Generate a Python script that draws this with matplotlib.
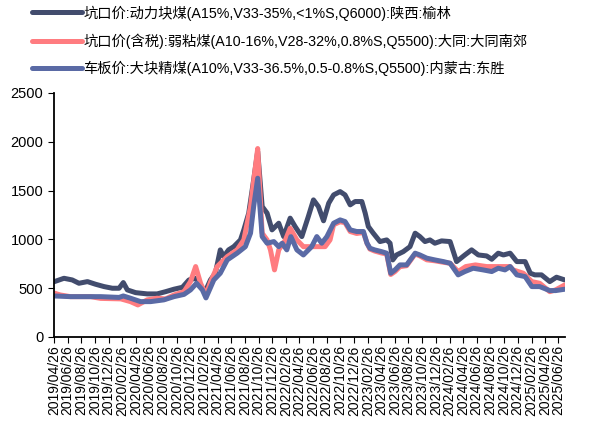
import matplotlib
matplotlib.use('Agg')
import matplotlib.pyplot as plt
import matplotlib.dates as mdates
import pandas as pd

plt.rcParams['font.family'] = ['Liberation Sans', 'Noto Sans CJK SC']

# 坑口价:动力块煤 陕西榆林
dark_dates = ['2019-04-26', '2019-06-10', '2019-07-17', '2019-08-16', '2019-09-23', '2019-10-29',
              '2019-12-06', '2020-01-12', '2020-02-11', '2020-03-01', '2020-03-19', '2020-04-25',
              '2020-06-16', '2020-07-30', '2020-09-06', '2020-10-13', '2020-11-20', '2020-12-19',
              '2021-01-18', '2021-02-17', '2021-03-05', '2021-03-25', '2021-04-16', '2021-05-08',
              '2021-05-23', '2021-06-14', '2021-07-07', '2021-08-06', '2021-08-21', '2021-09-12',
              '2021-10-04', '2021-10-22', '2021-11-11', '2021-12-03', '2021-12-25', '2022-01-24',
              '2022-02-15', '2022-03-16', '2022-04-07', '2022-05-07', '2022-06-05', '2022-06-28',
              '2022-07-20', '2022-08-12', '2022-09-04', '2022-09-26', '2022-10-25', '2022-11-16',
              '2022-12-09', '2022-12-31', '2023-01-30', '2023-02-14', '2023-02-28', '2023-03-22',
              '2023-04-21', '2023-05-21', '2023-06-05', '2023-06-17', '2023-07-04', '2023-08-03',
              '2023-09-02', '2023-09-25', '2023-10-16', '2023-11-08', '2023-11-30', '2023-12-22',
              '2024-01-21', '2024-02-28', '2024-03-28', '2024-05-04', '2024-06-03', '2024-07-03',
              '2024-08-09', '2024-09-01', '2024-09-30', '2024-10-23', '2024-11-22', '2024-12-22',
              '2025-01-28', '2025-02-20', '2025-03-12', '2025-04-11', '2025-05-18', '2025-06-17',
              '2025-07-24']
dark_vals = [565, 601, 584, 550, 567, 540,
             516, 499, 499, 557, 482, 454,
             441, 441, 464, 489, 509, 584,
             601, 499, 482, 584, 653, 892,
             823, 892, 925, 994, 1097, 1268,
             1609, 1900, 1336, 1268, 1097, 1165,
             1028, 1217, 1131, 1028, 1233, 1404,
             1336, 1190, 1370, 1455, 1489, 1455,
             1353, 1387, 1387, 1268, 1131, 1063,
             977, 994, 960, 789, 840, 874,
             925, 1063, 1028, 977, 994, 960,
             984, 977, 772, 840, 892, 840,
             830, 796, 858, 840, 858, 772,
             772, 653, 636, 636, 567, 612,
             584]

# 坑口价(含税):弱粘煤 大同南郊
pink_dates = ['2019-04-26', '2019-05-25', '2019-07-09', '2019-10-07', '2019-11-21', '2020-02-19',
              '2020-04-02', '2020-05-05', '2020-06-16', '2020-07-30', '2020-09-06', '2020-10-13',
              '2020-11-27', '2020-12-26', '2021-01-18', '2021-02-09', '2021-03-05', '2021-03-25',
              '2021-04-24', '2021-06-08', '2021-07-22', '2021-08-21', '2021-09-20', '2021-10-12',
              '2021-10-22', '2021-11-11', '2021-12-03', '2021-12-18', '2022-01-05', '2022-01-24',
              '2022-02-23', '2022-03-16', '2022-04-15', '2022-05-14', '2022-07-05', '2022-08-19',
              '2022-09-10', '2022-09-26', '2022-10-25', '2022-11-16', '2022-12-09', '2023-01-07',
              '2023-02-06', '2023-02-22', '2023-03-07', '2023-03-28', '2023-04-28', '2023-05-21',
              '2023-06-08', '2023-06-27', '2023-07-19', '2023-08-18', '2023-09-25', '2023-10-16',
              '2023-11-16', '2023-12-22', '2024-01-29', '2024-02-28', '2024-04-04', '2024-05-08',
              '2024-06-20', '2024-08-09', '2024-09-30', '2024-11-22', '2024-12-05', '2025-01-20',
              '2025-02-27', '2025-04-03', '2025-05-18', '2025-06-13', '2025-07-24']
pink_vals = [450, 430, 413, 413, 395, 390,
             362, 328, 380, 397, 390, 430,
             464, 567, 721, 550, 430, 560,
             721, 823, 892, 994, 1336, 1746,
             1930, 1063, 994, 892, 687, 892,
             994, 1114, 994, 925, 925, 925,
             994, 1150, 1180, 1170, 1080, 1060,
             1070, 960, 900, 880, 860, 850,
             640, 670, 720, 730, 850, 830,
             790, 780, 765, 755, 670, 721,
             738, 721, 721, 721, 687, 653,
             567, 550, 464, 482, 533]

# 车板价:大块精煤 内蒙古东胜
blue_dates = ['2019-04-26', '2019-07-09', '2019-11-21', '2020-02-11', '2020-03-01', '2020-04-02',
              '2020-05-17', '2020-07-01', '2020-08-29', '2020-10-13', '2020-11-27', '2020-12-26',
              '2021-01-22', '2021-02-17', '2021-03-05', '2021-04-09', '2021-05-08', '2021-06-08',
              '2021-07-22', '2021-08-28', '2021-09-20', '2021-10-04', '2021-10-22', '2021-11-11',
              '2021-12-03', '2022-01-02', '2022-01-24', '2022-02-08', '2022-03-01', '2022-03-19',
              '2022-04-15', '2022-05-14', '2022-06-20', '2022-07-13', '2022-08-04', '2022-08-27',
              '2022-09-26', '2022-10-25', '2022-11-16', '2022-12-09', '2023-01-07', '2023-02-06',
              '2023-02-22', '2023-03-07', '2023-03-28', '2023-04-28', '2023-05-21', '2023-06-08',
              '2023-06-27', '2023-07-19', '2023-08-18', '2023-09-25', '2023-10-16', '2023-11-16',
              '2023-12-22', '2024-01-29', '2024-02-28', '2024-04-04', '2024-05-04', '2024-06-10',
              '2024-07-24', '2024-09-01', '2024-09-30', '2024-10-30', '2024-11-22', '2024-12-22',
              '2025-01-28', '2025-02-27', '2025-04-03', '2025-05-18', '2025-06-13', '2025-07-24']
blue_vals = [420, 413, 413, 405, 420, 397,
             362, 362, 380, 413, 436, 482,
             550, 482, 400, 584, 653, 789,
             858, 925, 1063, 1336, 1626, 1028,
             960, 977, 925, 960, 892, 1028,
             892, 840, 925, 1028, 960, 1028,
             1165, 1199, 1182, 1097, 1080, 1080,
             960, 909, 892, 874, 858, 653,
             687, 738, 738, 858, 840, 807,
             789, 772, 755, 636, 670, 704,
             687, 670, 704, 687, 721, 636,
             618, 516, 516, 475, 475, 489]

labels = ['坑口价:动力块煤(A15%,V33-35%,<1%S,Q6000):陕西:榆林',
          '坑口价(含税):弱粘煤(A10-16%,V28-32%,0.8%S,Q5500):大同:大同南郊',
          '车板价:大块精煤(A10%,V33-36.5%,0.5-0.8%S,Q5500):内蒙古:东胜']
colors = ['#424c6d', '#ff7c80', '#5a6aa5']

# tick every two months on the 26th
tick_dates = pd.date_range('2019-04-01', '2025-06-01', freq='2MS') + pd.Timedelta(days=25)

fig = plt.figure(figsize=(5.92, 4.26), dpi=100)
ax = fig.add_axes([0.091, 0.209, 0.863, 0.573])

lines = []
for d, v, c, lab in zip([dark_dates, pink_dates, blue_dates],
                        [dark_vals, pink_vals, blue_vals], colors, labels):
    ln, = ax.plot(pd.to_datetime(d), v, color=c, lw=3.6, solid_capstyle='round',
                  solid_joinstyle='round', label=lab)
    lines.append(ln)

ax.set_ylim(0, 2500)
ax.set_yticks(range(0, 2501, 500))
ax.set_xlim(pd.Timestamp('2019-04-26'), pd.Timestamp('2025-07-24'))
ax.set_xticks(tick_dates)
ax.xaxis.set_major_formatter(mdates.DateFormatter('%Y/%m/%d'))
ax.tick_params(axis='x', labelrotation=90, labelsize=10, length=4, pad=2)
ax.tick_params(axis='y', labelsize=10.5, length=4)
for s in ['top', 'right']:
    ax.spines[s].set_visible(False)
for s in ['left', 'bottom']:
    ax.spines[s].set_linewidth(1.3)

fig.legend(handles=lines, loc='upper left', bbox_to_anchor=(0.032, 1.018), frameon=False,
           fontsize=10.3, handlelength=3.5, handletextpad=0.1, labelspacing=0.88)

fig.savefig('out.png', dpi=100)
